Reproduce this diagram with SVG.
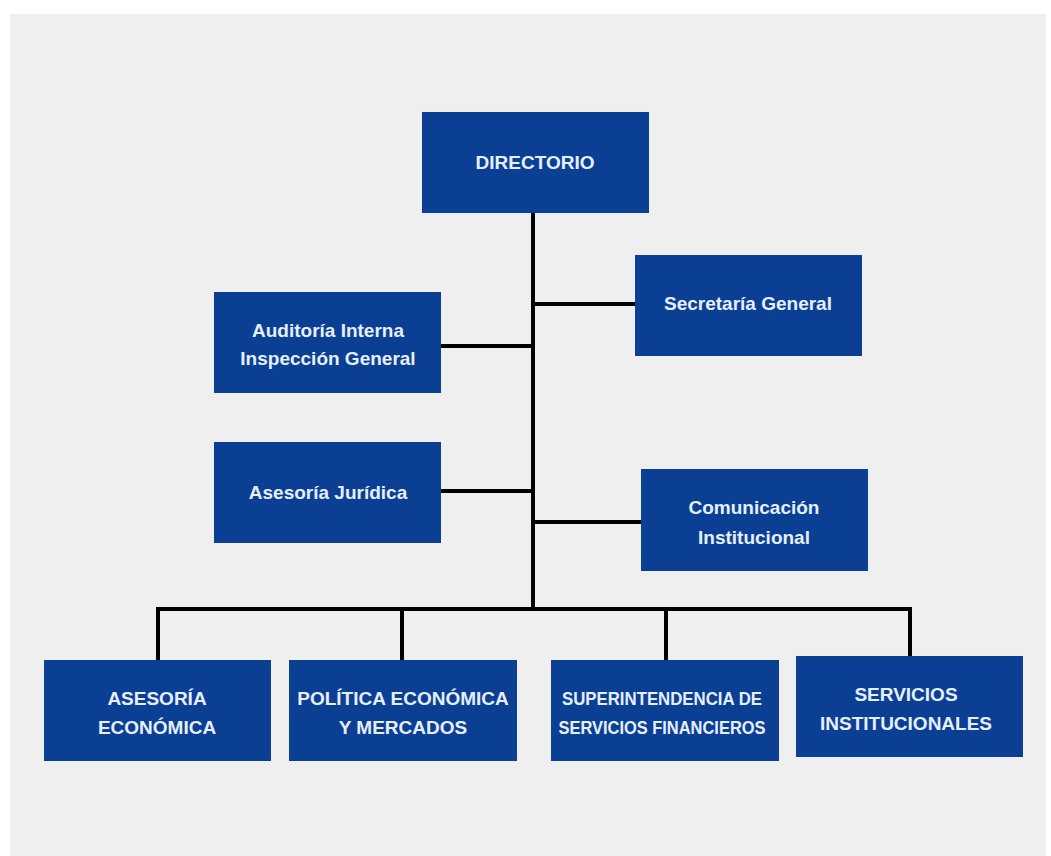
<svg xmlns="http://www.w3.org/2000/svg" width="1051" height="856" viewBox="0 0 1051 856">
<style>
.bg{fill:#efefef}
.box{fill:#0b3f93}
.t{font-family:"Liberation Sans",Arial,sans-serif;font-weight:bold;font-size:19px;fill:#e6efff;text-anchor:middle}
.c{stroke:#000;stroke-width:4;fill:none}
</style>
<rect width="1051" height="856" fill="#ffffff"/>
<rect class="bg" x="10" y="14" width="1036" height="842"/>
<g id="connectors">
<path class="c" d="M533 213V610"/>
<path class="c" d="M533 304H635"/>
<path class="c" d="M441 346H533"/>
<path class="c" d="M441 491H533"/>
<path class="c" d="M533 522H641"/>
<path class="c" d="M158 660V609H910V656"/>
<path class="c" d="M402 609V660"/>
<path class="c" d="M666 609V660"/>
</g>
<g id="directorio"><rect class="box" x="422" y="112" width="227" height="101"/><text class="t" x="535" y="169">DIRECTORIO</text></g>
<g id="secretaria"><rect class="box" x="635" y="255" width="227" height="101"/><text class="t" x="748" y="310">Secretaría General</text></g>
<g id="auditoria"><rect class="box" x="214" y="292" width="227" height="101"/><text class="t" x="328" y="337">Auditoría Interna</text><text class="t" x="328" y="365">Inspección General</text></g>
<g id="juridica"><rect class="box" x="214" y="442" width="227" height="101"/><text class="t" x="328" y="499">Asesoría Jurídica</text></g>
<g id="comunicacion"><rect class="box" x="641" y="469" width="227" height="102"/><text class="t" x="754" y="514">Comunicación</text><text class="t" x="754" y="544">Institucional</text></g>
<g id="asesoria-economica"><rect class="box" x="44" y="660" width="227" height="101"/><text class="t" x="157" y="705">ASESORÍA</text><text class="t" x="157" y="734">ECONÓMICA</text></g>
<g id="politica"><rect class="box" x="289" y="660" width="228" height="101"/><text class="t" x="403" y="705">POLÍTICA ECONÓMICA</text><text class="t" x="403" y="734">Y MERCADOS</text></g>
<g id="superintendencia"><rect class="box" x="551" y="660" width="228" height="101"/><text class="t" x="662" y="705" textLength="200" lengthAdjust="spacingAndGlyphs">SUPERINTENDENCIA DE</text><text class="t" x="662" y="734" textLength="207" lengthAdjust="spacingAndGlyphs">SERVICIOS FINANCIEROS</text></g>
<g id="servicios"><rect class="box" x="796" y="656" width="227" height="101"/><text class="t" x="906" y="701">SERVICIOS</text><text class="t" x="906" y="730">INSTITUCIONALES</text></g>
</svg>
